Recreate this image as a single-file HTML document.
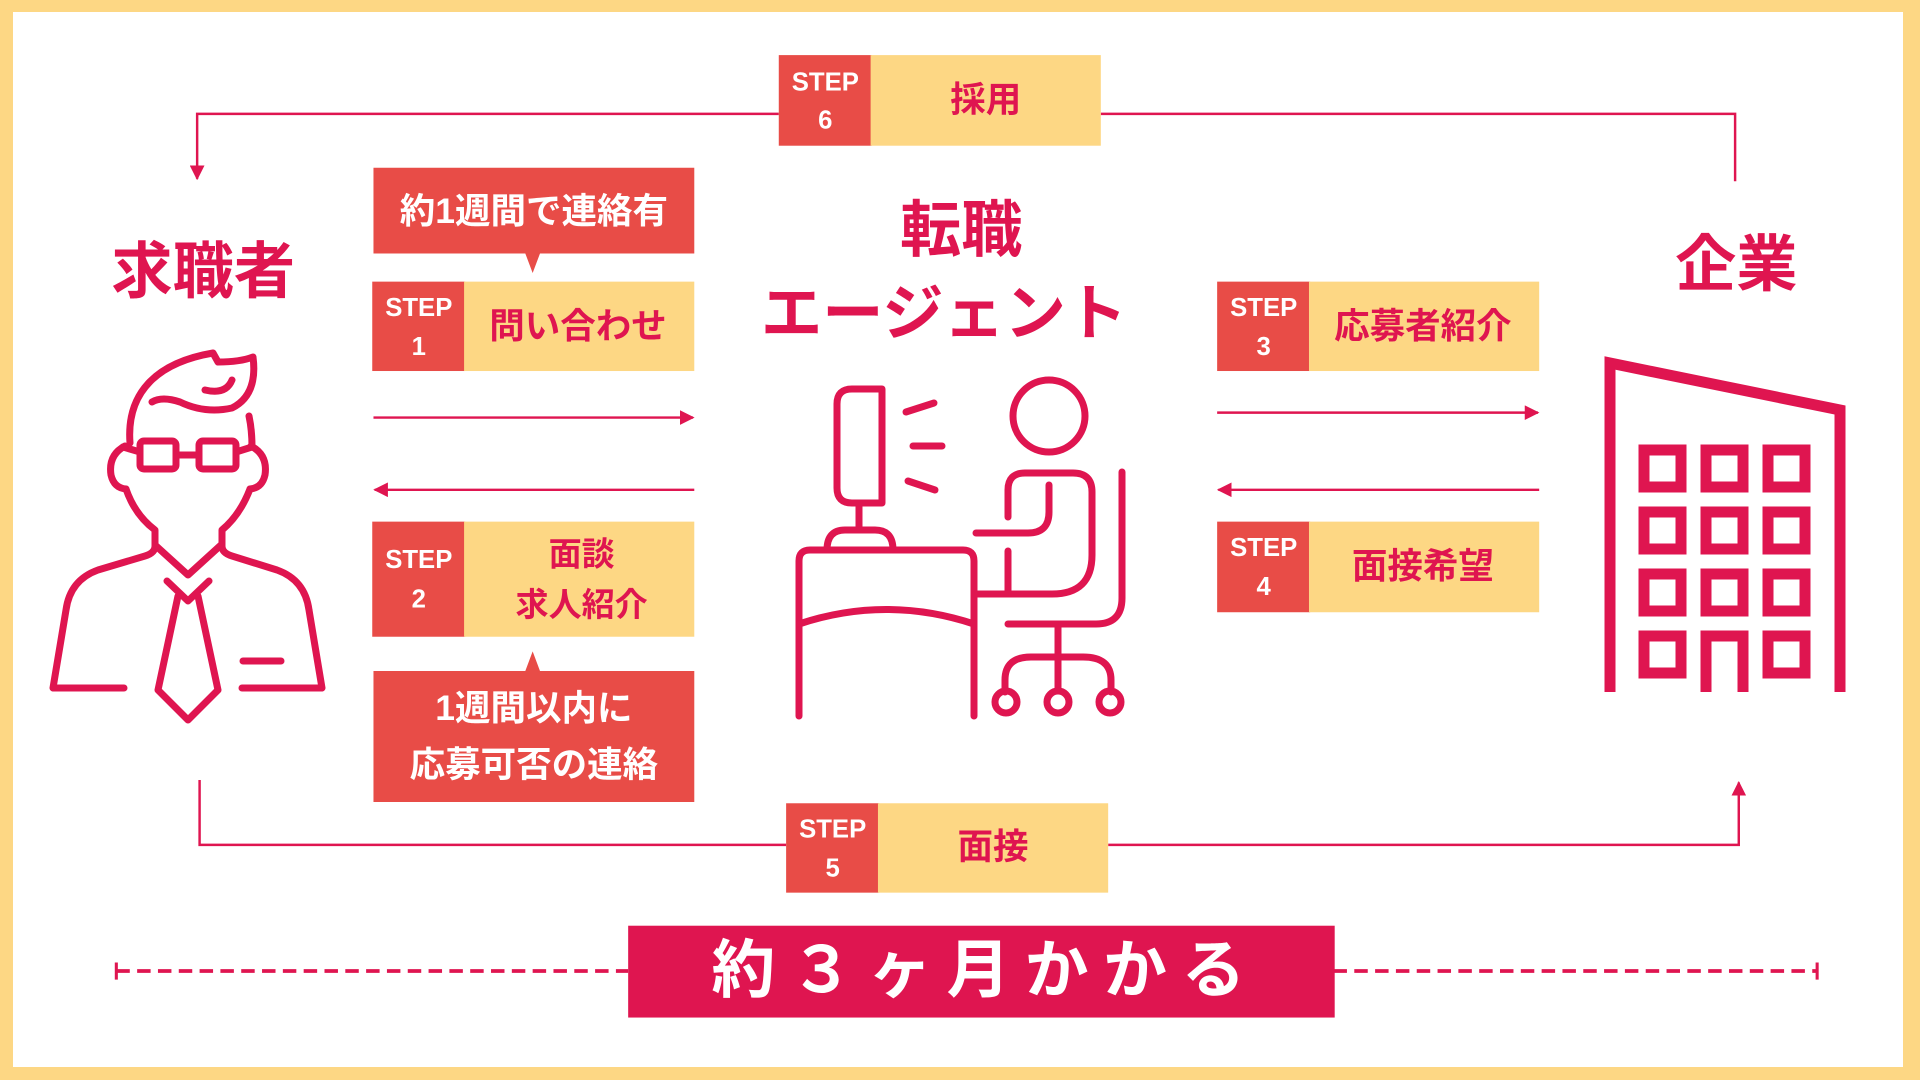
<!DOCTYPE html>
<html><head><meta charset="utf-8"><style>
html,body{margin:0;padding:0;width:1920px;height:1080px;overflow:hidden;background:#FDD784}
svg{display:block}
text{font-family:"Liberation Sans","Noto Sans CJK JP",sans-serif;font-weight:bold}
</style></head><body>
<svg width="1920" height="1080" viewBox="0 0 1920 1080" xmlns="http://www.w3.org/2000/svg">
<rect x="0" y="0" width="1920" height="1080" fill="#FDD784"/>
<rect x="13" y="12" width="1890" height="1055" fill="#fff"/>
<g transform="scale(1.22449)">
 <defs>
  <marker id="ah" viewBox="0 0 10 10" refX="9" refY="5" markerWidth="6" markerHeight="6" orient="auto-start-reverse">
   <path d="M0,0 L10,5 L0,10 z" fill="#DF1550"/>
  </marker>
 </defs>
 <g stroke="#DF1550" stroke-width="2" fill="none">
  <path d="M636,93 H161 V146" marker-end="url(#ah)"/>
  <path d="M899,93 H1417 V148"/>
  <path d="M642,690 H163 V637"/>
  <path d="M905,690 H1420 V639" marker-end="url(#ah)"/>
  <path d="M305,341 H566" marker-end="url(#ah)"/>
  <path d="M567,400 H306" marker-end="url(#ah)"/>
  <path d="M994,337 H1256" marker-end="url(#ah)"/>
  <path d="M1257,400 H995" marker-end="url(#ah)"/>
 </g>
 <g>
  <rect x="636" y="45" width="76" height="74" fill="#E84C47"/><rect x="711" y="45" width="188" height="74" fill="#FDD784"/>
  <text x="674" y="74" font-size="21" fill="#fff" text-anchor="middle" font-weight="normal">STEP</text>
  <text x="674" y="105" font-size="21" fill="#fff" text-anchor="middle" font-weight="normal">6</text>
  <text x="805" y="91" font-size="29" fill="#DF1550" text-anchor="middle">採用</text>

  <rect x="304" y="230" width="76" height="73" fill="#E84C47"/><rect x="379" y="230" width="188" height="73" fill="#FDD784"/>
  <text x="342" y="258" font-size="21" fill="#fff" text-anchor="middle" font-weight="normal">STEP</text>
  <text x="342" y="290" font-size="21" fill="#fff" text-anchor="middle" font-weight="normal">1</text>
  <text x="472" y="276" font-size="29" fill="#DF1550" text-anchor="middle">問い合わせ</text>

  <rect x="304" y="426" width="76" height="94" fill="#E84C47"/><rect x="379" y="426" width="188" height="94" fill="#FDD784"/>
  <text x="342" y="464" font-size="21" fill="#fff" text-anchor="middle" font-weight="normal">STEP</text>
  <text x="342" y="496" font-size="21" fill="#fff" text-anchor="middle" font-weight="normal">2</text>
  <text x="475" y="462" font-size="27" fill="#DF1550" text-anchor="middle">面談</text>
  <text x="475" y="503" font-size="27" fill="#DF1550" text-anchor="middle">求人紹介</text>

  <rect x="994" y="230" width="76" height="73" fill="#E84C47"/><rect x="1069" y="230" width="188" height="73" fill="#FDD784"/>
  <text x="1032" y="258" font-size="21" fill="#fff" text-anchor="middle" font-weight="normal">STEP</text>
  <text x="1032" y="290" font-size="21" fill="#fff" text-anchor="middle" font-weight="normal">3</text>
  <text x="1162" y="276" font-size="29" fill="#DF1550" text-anchor="middle">応募者紹介</text>

  <rect x="994" y="426" width="76" height="74" fill="#E84C47"/><rect x="1069" y="426" width="188" height="74" fill="#FDD784"/>
  <text x="1032" y="454" font-size="21" fill="#fff" text-anchor="middle" font-weight="normal">STEP</text>
  <text x="1032" y="486" font-size="21" fill="#fff" text-anchor="middle" font-weight="normal">4</text>
  <text x="1162" y="472" font-size="29" fill="#DF1550" text-anchor="middle">面接希望</text>

  <rect x="642" y="656" width="76" height="73" fill="#E84C47"/><rect x="717" y="656" width="188" height="73" fill="#FDD784"/>
  <text x="680" y="684" font-size="21" fill="#fff" text-anchor="middle" font-weight="normal">STEP</text>
  <text x="680" y="716" font-size="21" fill="#fff" text-anchor="middle" font-weight="normal">5</text>
  <text x="811" y="701" font-size="29" fill="#DF1550" text-anchor="middle">面接</text>
 </g>
 <path d="M305,137 H567 V207 H441 L435,223 L429,207 H305 Z" fill="#E84C47"/>
 <text x="436" y="182" font-size="29" fill="#fff" text-anchor="middle">約1週間で連絡有</text>
 <path d="M305,548 H429 L435,532 L441,548 H567 V655 H305 Z" fill="#E84C47"/>
 <text x="436" y="588" font-size="29" fill="#fff" text-anchor="middle">1週間以内に</text>
 <text x="436" y="634" font-size="29" fill="#fff" text-anchor="middle">応募可否の連絡</text>
 <text x="166" y="239" font-size="50" fill="#DF1550" text-anchor="middle">求職者</text>
 <text x="785" y="205" font-size="50" fill="#DF1550" text-anchor="middle">転職</text>
 <text x="771" y="273" font-size="50" fill="#DF1550" text-anchor="middle">エージェント</text>
 <text x="1418" y="233" font-size="50" fill="#DF1550" text-anchor="middle">企業</text>
 <g stroke="#DF1550" stroke-width="3" fill="none">
  <path d="M95,793 H513" stroke-dasharray="11,6"/>
  <path d="M1089,793 H1484" stroke-dasharray="11,6"/>
  <path d="M95,786 V800 M1484,786 V800" stroke-width="2.5"/>
 </g>
 <rect x="513" y="756" width="577" height="75" fill="#DF1550"/>
 <text x="805" y="810" font-size="52" fill="#fff" text-anchor="middle" letter-spacing="12">約３ヶ月かかる</text>
</g>
<g stroke="#DF1550" stroke-width="7" fill="none" stroke-linecap="round" stroke-linejoin="round">
 <path d="M130,443 C126,390 160,362 213,353 L218,362 Q240,362 253,357 Q258,395 232,408 Q205,414 180,402 Q162,396 152,402"/>
 <path d="M205,390 Q226,395 232,380"/>
 <path d="M249,416 Q252,430 252,447"/>
 <rect x="140" y="441" width="36" height="28" rx="4"/>
 <rect x="199" y="441" width="37" height="28" rx="4"/>
 <path d="M176,455 H199 M123,447 L140,452 M236,452 L252,447"/>
 <path d="M125,446 Q108,455 111,475 Q114,488 126,489"/>
 <path d="M251,446 Q268,455 265,475 Q262,488 250,489"/>
 <path d="M126,489 Q135,515 155,530 V546 Q155,553 145,556 L98,570 Q70,580 66,610 L53,688 H124"/>
 <path d="M250,489 Q240,515 222,530 V546 Q222,553 232,556 L277,570 Q305,580 309,610 L322,688 H242"/>
 <path d="M155,545 L188,575 L221,545"/>
 <path d="M167,581 L188,601 L209,581"/>
 <path d="M178,596 L158,690 L188,720 L218,690 L198,596"/>
 <path d="M243,661 H281"/>
 <path d="M882,389 V503 H852 Q837,503 837,488 V404 Q837,389 852,389 Z"/>
 <path d="M859,503 V530"/>
 <path d="M827,550 Q827,530 845,530 H875 Q893,530 893,550"/>
 <path d="M799,716 V561 Q799,550 810,550 H963 Q974,550 974,561 V716"/>
 <path d="M799,624 Q886,595 974,624"/>
 <path d="M906,412 L934,403 M913,446 H942 M908,481 L935,490"/>
 <circle cx="1049" cy="416" r="36"/>
 <path d="M1008,517 V490 Q1008,473 1025,473 H1073 Q1092,473 1092,492 V555 Q1092,594 1052,594 H976"/>
 <path d="M1049,485 V512 Q1049,533 1028,533 H976"/>
 <path d="M1008,551 V594"/>
 <path d="M1122,472 V598 Q1122,624 1096,624 H1008"/>
 <path d="M1058,624 V688"/>
 <path d="M1005,692 V680 Q1005,657 1031,657 H1083 Q1111,657 1111,680 V692"/>
 <circle cx="1006" cy="702" r="11"/><circle cx="1058" cy="702" r="11"/><circle cx="1110" cy="702" r="11"/>
</g>
<g stroke="#DF1550" stroke-width="11" fill="none" stroke-linejoin="miter">
 <path d="M1610,692 V363 L1840,410 V692"/>
 <rect x="1644" y="450" width="37" height="37"/><rect x="1706" y="450" width="37" height="37"/><rect x="1768" y="450" width="37" height="37"/>
 <rect x="1644" y="512" width="37" height="37"/><rect x="1706" y="512" width="37" height="37"/><rect x="1768" y="512" width="37" height="37"/>
 <rect x="1644" y="574" width="37" height="37"/><rect x="1706" y="574" width="37" height="37"/><rect x="1768" y="574" width="37" height="37"/>
 <rect x="1644" y="636" width="37" height="37"/><rect x="1768" y="636" width="37" height="37"/>
 <path d="M1706,692 V636 H1743 V692"/>
</g>
</svg>
</body></html>
